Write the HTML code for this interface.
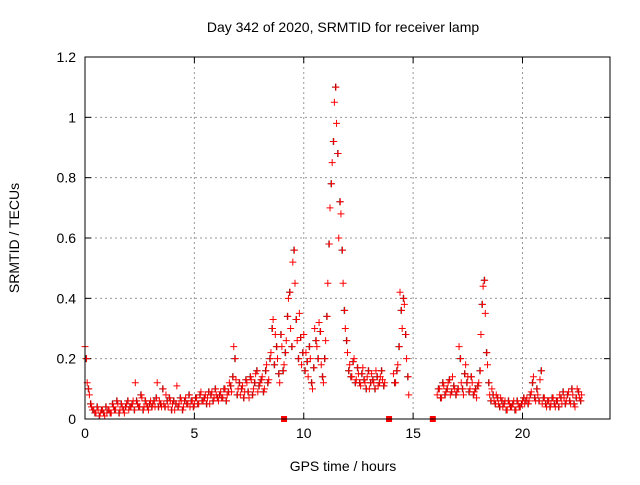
<!DOCTYPE html>
<html><head><meta charset="utf-8"><style>
body{margin:0;background:#fff}
svg text{font-family:"Liberation Sans",sans-serif;font-size:14px;fill:#000}
</style></head><body>
<svg id="chart" width="640" height="480" xmlns="http://www.w3.org/2000/svg">
<text x="343" y="32" text-anchor="middle">Day 342 of 2020, SRMTID for receiver lamp</text>
<text x="343" y="471" text-anchor="middle">GPS time / hours</text>
<text transform="translate(19,238) rotate(-90)" text-anchor="middle">SRMTID / TECUs</text>
<g id="grid"></g><g id="ticks"></g><g id="marks"></g>
<rect x="85" y="57" width="525" height="362" fill="none" stroke="#000" stroke-width="1"/>
</svg>
<script>
const xTicks=[0,5,10,15,20];
const yTicks=[0,0.2,0.4,0.6,0.8,1,1.2];
const yTickLabels=["0","0.2","0.4","0.6","0.8","1","1.2"];
const tStart=0, tStep=0.1, tStart2=0.05;
const values=[0.24,0.12,0.08,0.04,
0.03,0.02,0.03,0.02,0.03,0.01,0.02,
0.03,0.02,0.04,0.03,0.05,0.03,0.04,0.02,0.05,0.03,
0.04,0.06,0.12,0.05,0.04,0.07,0.04,0.05,0.03,0.06,
0.05,0.04,0.12,0.06,0.04,0.05,0.08,0.04,0.06,0.05,
0.03,0.11,0.05,0.06,0.04,0.07,0.05,0.04,0.06,0.05,
0.07,0.05,0.09,0.06,0.08,0.07,0.05,0.09,0.07,0.08,
0.06,0.09,0.07,0.10,0.08,0.12,0.09,0.24,0.13,0.10,
0.08,0.11,0.09,0.12,0.07,0.13,0.10,0.15,0.09,0.12,
0.14,0.10,0.18,0.13,0.22,0.33,0.28,0.20,0.12,0.24,
0.18,0.26,0.40,0.30,0.52,0.45,0.26,0.35,0.18,0.28,
0.22,0.14,0.20,0.10,0.30,0.24,0.32,0.18,0.12,0.26,
0.45,0.70,0.85,1.05,0.98,0.60,0.68,0.45,0.30,0.22,
0.18,0.14,0.20,0.13,0.15,0.11,0.17,0.12,0.14,0.10,
0.15,0.12,0.16,0.11,0.14,0.13,0.12,null,null,null,
0.15,0.12,0.18,0.42,0.30,0.38,0.20,0.08,null,null,
null,null,null,null,null,null,null,null,null,null,
0.08,0.10,0.07,0.11,0.09,0.12,0.08,0.14,0.10,0.09,
0.24,0.12,0.08,0.18,0.14,0.10,0.12,0.09,0.07,0.12,
0.28,0.44,0.35,0.18,0.08,0.10,0.06,0.08,0.05,0.07,
0.04,0.06,0.03,0.05,0.04,0.06,0.03,0.05,0.04,0.06,
0.05,0.07,0.06,0.09,0.14,0.06,0.08,0.13,0.05,0.07,
0.04,0.06,0.05,0.07,0.04,0.06,0.08,0.05,0.07,0.06,
0.09,0.05,0.08,0.04,0.10,0.07,0.08];
const values2=[0.20,0.10,0.05,0.03,
0.02,0.04,0.01,0.03,0.02,0.04,0.03,
0.02,0.05,0.03,0.06,0.02,0.05,0.03,0.04,0.06,0.04,
0.05,0.03,0.06,0.04,0.08,0.03,0.06,0.04,0.05,0.04,
0.06,0.07,0.04,0.05,0.10,0.04,0.06,0.07,0.03,0.06,
0.05,0.04,0.07,0.03,0.06,0.05,0.08,0.06,0.04,0.07,
0.05,0.08,0.06,0.07,0.05,0.09,0.08,0.06,0.10,0.07,
0.08,0.07,0.10,0.06,0.09,0.11,0.14,0.20,0.08,0.12,
0.10,0.07,0.13,0.09,0.14,0.08,0.12,0.16,0.11,0.13,
0.09,0.16,0.12,0.20,0.30,0.18,0.24,0.15,0.28,0.16,
0.22,0.34,0.42,0.24,0.56,0.33,0.20,0.27,0.22,0.16,
0.19,0.24,0.12,0.17,0.26,0.20,0.29,0.14,0.20,0.34,
0.58,0.78,0.92,1.10,0.88,0.72,0.56,0.36,0.26,0.16,
0.14,0.19,0.12,0.17,0.12,0.15,0.13,0.10,0.16,0.12,
0.13,0.10,0.14,0.12,0.16,0.11,null,null,null,null,
0.12,0.16,0.24,0.36,0.40,0.28,0.14,null,null,null,
null,null,null,null,null,null,null,null,null,null,
0.10,0.07,0.12,0.08,0.10,0.13,0.09,0.11,0.08,0.10,
0.20,0.10,0.15,0.12,0.09,0.14,0.08,0.10,0.11,0.16,
0.38,0.46,0.22,0.12,0.06,0.08,0.05,0.07,0.04,0.06,
0.05,0.03,0.06,0.04,0.05,0.03,0.06,0.04,0.05,0.07,
0.06,0.05,0.08,0.12,0.07,0.10,0.06,0.16,0.07,0.05,
0.06,0.04,0.07,0.05,0.06,0.04,0.07,0.09,0.05,0.08,
0.06,0.10,0.05,0.07,0.09,0.06,null];
const axisMarkers=[9.1,13.9,15.9];
const X0=85,X1=610,Y0=419,Y1=57,XMAX=24,YMAX=1.2;
const xs=v=>X0+v/XMAX*(X1-X0);
const ys=v=>Y0-v/YMAX*(Y0-Y1);
const NS="http://www.w3.org/2000/svg";
function mk(tag,attrs,parent){const e=document.createElementNS(NS,tag);for(const k in attrs)e.setAttribute(k,attrs[k]);parent.appendChild(e);return e;}
const grid=document.getElementById('grid'),ticks=document.getElementById('ticks'),marks=document.getElementById('marks');
xTicks.forEach(t=>{const x=xs(t);
 if(t>0){const g=mk('line',{x1:x,x2:x,y1:Y1,y2:Y0,stroke:'#999','stroke-dasharray':'2,3'},grid);
 
 }
 const tx=mk('text',{x:x,y:Y0+19,'text-anchor':'middle'},ticks);tx.textContent=t;
 
 
 mk('line',{x1:x,x2:x,y1:Y0,y2:Y0-6,stroke:'#000'},ticks);mk('line',{x1:x,x2:x,y1:Y1,y2:Y1+6,stroke:'#000'},ticks);});
yTicks.forEach((t,i)=>{const y=ys(t);
 if(t>0&&t<YMAX){const g=mk('line',{x1:X0,x2:X1,y1:y,y2:y,stroke:'#999','stroke-dasharray':'2,3'},grid);
 
 }
 const tx=mk('text',{x:X0-9,y:y+5,'text-anchor':'end'},ticks);tx.textContent=yTickLabels[i];
 
 
 mk('line',{x1:X0,x2:X0+6,y1:y,y2:y,stroke:'#000'},ticks);mk('line',{x1:X1,x2:X1-6,y1:y,y2:y,stroke:'#000'},ticks);});
function drawSeries(arr,t0,color){arr.forEach((v,i)=>{if(v===null)return;const x=xs(t0+i*tStep),y=ys(v);
 const p=mk('path',{d:`M${x-3.5},${y}h7M${x},${y-3.5}v7`,stroke:color,'stroke-width':1},marks);
 
 });}
drawSeries(values2,tStart2,'#222');
drawSeries(values2,tStart2+0.02,'red');
drawSeries(values,tStart,'red');
axisMarkers.forEach(t=>{const r=mk('rect',{x:xs(t)-3,y:Y0-3,width:6,height:6,fill:'red'},marks);
 
 });
</script>
</body></html>
